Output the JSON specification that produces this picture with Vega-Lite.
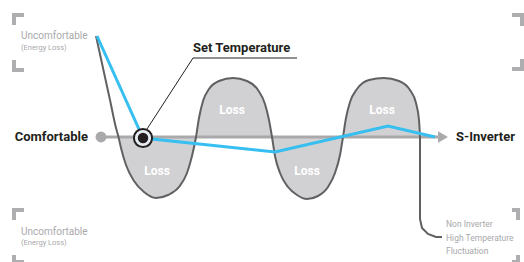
{
  "$schema": "https://vega.github.io/schema/vega-lite/v6.json",
  "width": 524,
  "height": 262,
  "autosize": "none",
  "padding": 0,
  "background": "white",
  "config": {"view": {"stroke": null}},
  "datasets": {
    "wave": [
      {"x": 96, "y": 36}, {"x": 110, "y": 100}, {"x": 116, "y": 128}, {"x": 118.5, "y": 137},
      {"x": 121, "y": 148}, {"x": 126, "y": 165}, {"x": 134, "y": 181}, {"x": 144, "y": 192},
      {"x": 156, "y": 198}, {"x": 168, "y": 195}, {"x": 179, "y": 187}, {"x": 187, "y": 173},
      {"x": 192, "y": 156}, {"x": 196, "y": 137}, {"x": 199, "y": 118}, {"x": 203, "y": 101},
      {"x": 209, "y": 89}, {"x": 219, "y": 81}, {"x": 233, "y": 78}, {"x": 247, "y": 81},
      {"x": 258, "y": 90}, {"x": 265, "y": 104}, {"x": 269, "y": 120}, {"x": 272, "y": 137},
      {"x": 275, "y": 156}, {"x": 280, "y": 173}, {"x": 288, "y": 187}, {"x": 297, "y": 195},
      {"x": 307, "y": 199}, {"x": 318, "y": 196}, {"x": 328, "y": 187}, {"x": 335, "y": 173},
      {"x": 340, "y": 155}, {"x": 343, "y": 137}, {"x": 346, "y": 118}, {"x": 350, "y": 102},
      {"x": 357, "y": 89}, {"x": 369, "y": 80}, {"x": 384, "y": 78}, {"x": 399, "y": 81},
      {"x": 410, "y": 90}, {"x": 416, "y": 103}, {"x": 419, "y": 120}, {"x": 420, "y": 137}
    ],
    "leader": [
      {"o": 1, "x": 420, "y": 137}, {"o": 2, "x": 420, "y": 219}, {"o": 3, "x": 422, "y": 228},
      {"o": 4, "x": 428, "y": 234}, {"o": 5, "x": 436, "y": 237}, {"o": 6, "x": 442, "y": 237}
    ],
    "blue": [
      {"o": 1, "x": 97, "y": 36}, {"o": 2, "x": 143, "y": 138}, {"o": 3, "x": 275, "y": 152},
      {"o": 4, "x": 388, "y": 126}, {"o": 5, "x": 435, "y": 137}
    ],
    "settemp": [
      {"o": 1, "x": 147, "y": 129}, {"o": 2, "x": 193, "y": 58}, {"o": 3, "x": 297, "y": 58}
    ],
    "base": [{"x": 101, "x2": 438, "y": 137}],
    "dot": [{"x": 101, "y": 137}],
    "arrow": [{"x": 443, "y": 137}],
    "setpoint": [{"x": 143, "y": 138}],
    "brackets": [
      {"x": 12, "x2": 24, "y": 13, "y2": 17}, {"x": 12, "x2": 16, "y": 13, "y2": 25},
      {"x": 12, "x2": 16, "y": 60, "y2": 72}, {"x": 12, "x2": 24, "y": 68, "y2": 72},
      {"x": 512, "x2": 524, "y": 13, "y2": 17}, {"x": 520, "x2": 524, "y": 13, "y2": 26},
      {"x": 520, "x2": 524, "y": 59, "y2": 71}, {"x": 512, "x2": 524, "y": 67, "y2": 71},
      {"x": 12, "x2": 24, "y": 208, "y2": 212}, {"x": 12, "x2": 16, "y": 208, "y2": 220},
      {"x": 12, "x2": 16, "y": 255, "y2": 264}, {"x": 12, "x2": 24, "y": 260, "y2": 264},
      {"x": 512, "x2": 520, "y": 208, "y2": 212}, {"x": 516, "x2": 520, "y": 208, "y2": 220},
      {"x": 516, "x2": 520, "y": 255, "y2": 264}, {"x": 512, "x2": 520, "y": 260, "y2": 264}
    ],
    "loss": [
      {"x": 157, "y": 171, "t": "Loss"}, {"x": 232, "y": 110, "t": "Loss"},
      {"x": 307, "y": 171, "t": "Loss"}, {"x": 382, "y": 110, "t": "Loss"}
    ],
    "uncomf": [
      {"x": 21, "y": 36, "t": "Uncomfortable"}, {"x": 21, "y": 232, "t": "Uncomfortable"}
    ],
    "energy": [
      {"x": 21, "y": 48, "t": "(Energy Loss)"}, {"x": 21, "y": 243, "t": "(Energy Loss)"}
    ],
    "noninv": [
      {"x": 446, "y": 224, "t": "Non Inverter"}, {"x": 446, "y": 238, "t": "High Temperature"},
      {"x": 446, "y": 251, "t": "Fluctuation"}
    ],
    "boldleft": [
      {"x": 456, "y": 137, "t": "S-Inverter"}, {"x": 193, "y": 48, "t": "Set Temperature"}
    ],
    "boldright": [{"x": 88, "y": 137, "t": "Comfortable"}]
  },
  "encoding": {
    "x": {"field": "x", "type": "quantitative", "scale": {"domain": [0, 524], "nice": false, "zero": false}, "axis": null},
    "y": {"field": "y", "type": "quantitative", "scale": {"domain": [0, 262], "reverse": true, "nice": false, "zero": false}, "axis": null}
  },
  "layer": [
    {
      "data": {"name": "wave"},
      "transform": [{"filter": "datum.x >= 118"}],
      "mark": {"type": "area", "interpolate": "monotone", "fill": "#d1d1d3", "opacity": 1},
      "encoding": {"y2": {"datum": 137}}
    },
    {
      "data": {"name": "base"},
      "mark": {"type": "rule", "stroke": "#a9a9ab", "strokeWidth": 3},
      "encoding": {"x2": {"field": "x2"}}
    },
    {
      "data": {"name": "dot"},
      "mark": {"type": "point", "shape": "circle", "filled": true, "fill": "#a9a9ab", "opacity": 1, "size": 120}
    },
    {
      "data": {"name": "arrow"},
      "mark": {"type": "point", "shape": "triangle-right", "filled": true, "fill": "#a9a9ab", "opacity": 1, "size": 130}
    },
    {
      "data": {"name": "wave"},
      "mark": {"type": "line", "interpolate": "monotone", "stroke": "#616163", "strokeWidth": 2}
    },
    {
      "data": {"name": "leader"},
      "mark": {"type": "line", "stroke": "#616163", "strokeWidth": 2},
      "encoding": {"order": {"field": "o"}}
    },
    {
      "data": {"name": "blue"},
      "mark": {"type": "line", "stroke": "#36bff0", "strokeWidth": 3},
      "encoding": {"order": {"field": "o"}}
    },
    {
      "data": {"name": "settemp"},
      "mark": {"type": "line", "stroke": "#231f20", "strokeWidth": 1},
      "encoding": {"order": {"field": "o"}}
    },
    {
      "data": {"name": "setpoint"},
      "mark": {"type": "point", "shape": "circle", "filled": true, "fill": "#e6edf2", "stroke": "#231f20", "strokeWidth": 2, "opacity": 1, "size": 330}
    },
    {
      "data": {"name": "setpoint"},
      "mark": {"type": "point", "shape": "circle", "filled": true, "fill": "#231f20", "opacity": 1, "size": 110}
    },
    {
      "data": {"name": "brackets"},
      "mark": {"type": "rect", "fill": "#aeaeb0"},
      "encoding": {"x2": {"field": "x2"}, "y2": {"field": "y2"}}
    },
    {
      "data": {"name": "loss"},
      "mark": {"type": "text", "font": "Roboto", "fontWeight": "bold", "fontSize": 12, "fill": "white", "align": "center", "baseline": "middle"},
      "encoding": {"text": {"field": "t"}}
    },
    {
      "data": {"name": "uncomf"},
      "mark": {"type": "text", "font": "Roboto", "fontSize": 10, "fill": "#a9a9ab", "align": "left", "baseline": "middle"},
      "encoding": {"text": {"field": "t"}}
    },
    {
      "data": {"name": "energy"},
      "mark": {"type": "text", "font": "Roboto", "fontSize": 7.5, "fill": "#a9a9ab", "align": "left", "baseline": "middle"},
      "encoding": {"text": {"field": "t"}}
    },
    {
      "data": {"name": "noninv"},
      "mark": {"type": "text", "font": "Roboto", "fontSize": 8.5, "fill": "#a9a9ab", "align": "left", "baseline": "middle"},
      "encoding": {"text": {"field": "t"}}
    },
    {
      "data": {"name": "boldleft"},
      "mark": {"type": "text", "font": "Roboto", "fontWeight": "bold", "fontSize": 13, "fill": "#231f20", "align": "left", "baseline": "middle"},
      "encoding": {"text": {"field": "t"}}
    },
    {
      "data": {"name": "boldright"},
      "mark": {"type": "text", "font": "Roboto", "fontWeight": "bold", "fontSize": 13, "fill": "#231f20", "align": "right", "baseline": "middle"},
      "encoding": {"text": {"field": "t"}}
    }
  ]
}
